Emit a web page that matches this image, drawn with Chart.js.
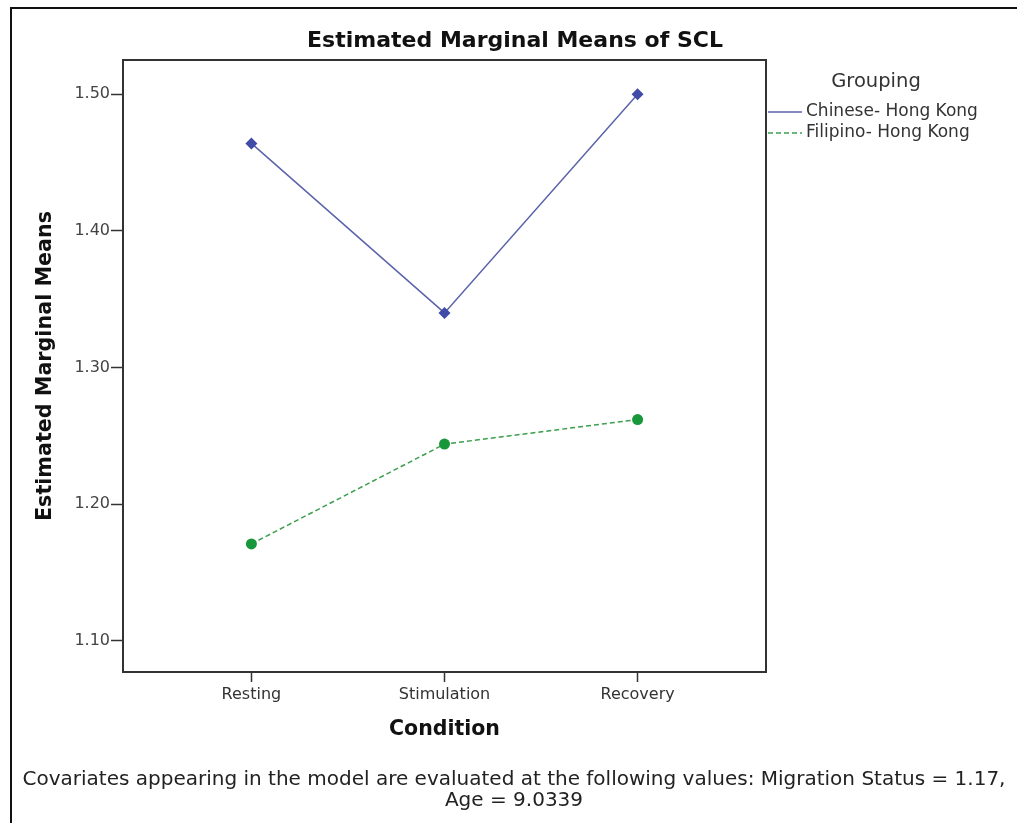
<!DOCTYPE html>
<html>
<head>
<meta charset="utf-8">
<script src="https://cdn.jsdelivr.net/npm/chart.js@4/dist/chart.umd.min.js"></script>
<style>
  html, body { margin: 0; padding: 0; background: #fff; }
  #wrap { width: 1017px; height: 823px; position: relative; }
</style>
</head>
<body>
<div id="wrap"><canvas id="emmChart" width="1017" height="823"></canvas></div>
<script>
  // Data
  const conditions = ['Resting', 'Stimulation', 'Recovery'];
  const chineseHK = [1.464, 1.340, 1.500];
  const filipinoHK = [1.171, 1.244, 1.262];
  const groupNames = ['Chinese- Hong Kong', 'Filipino- Hong Kong'];
  const yTicks = [1.10, 1.20, 1.30, 1.40, 1.50];

  const FONT = '"DejaVu Sans", sans-serif';
  const blue = '#5b63aa';
  const blueMark = '#3f4ba6';
  const green = '#3b9f4c';
  const greenMark = '#17973a';

  // Frame + title + legend + footer drawn around the plot
  const decorations = {
    id: 'decorations',
    beforeDraw(chart) {
      const ctx = chart.ctx;
      ctx.save();
      ctx.strokeStyle = '#111';
      ctx.lineWidth = 2;
      ctx.beginPath();
      ctx.moveTo(11, 823);
      ctx.lineTo(11, 8);
      ctx.lineTo(1017, 8);
      ctx.stroke();
      ctx.restore();
    },
    afterDraw(chart) {
      const ctx = chart.ctx;
      const a = chart.chartArea;
      ctx.save();
      ctx.strokeStyle = '#333';
      ctx.lineWidth = 2;
      ctx.strokeRect(a.left, a.top, a.right - a.left, a.bottom - a.top);

      ctx.fillStyle = '#111';
      ctx.textAlign = 'center';
      ctx.textBaseline = 'middle';
      ctx.font = 'bold 22px ' + FONT;
      ctx.fillText('Estimated Marginal Means of SCL', 515, 41);

      // legend
      ctx.fillStyle = '#333';
      ctx.font = '19.5px ' + FONT;
      ctx.fillText('Grouping', 876, 82);
      ctx.textAlign = 'left';
      ctx.font = '17px ' + FONT;
      chart.data.datasets.forEach((ds, i) => {
        const y = 112 + i * 21;
        ctx.strokeStyle = ds.borderColor;
        ctx.lineWidth = 1.5;
        ctx.setLineDash(ds.borderDash || []);
        ctx.beginPath();
        ctx.moveTo(768, y);
        ctx.lineTo(802, y);
        ctx.stroke();
        ctx.setLineDash([]);
        ctx.fillStyle = '#333';
        ctx.fillText(ds.label, 806, y);
      });

      // footer
      ctx.textAlign = 'center';
      ctx.fillStyle = '#222';
      ctx.font = '20px ' + FONT;
      ctx.fillText('Covariates appearing in the model are evaluated at the following values: Migration Status = 1.17,', 514, 780);
      ctx.fillText('Age = 9.0339', 514, 801);
      ctx.restore();
    }
  };

  new Chart(document.getElementById('emmChart').getContext('2d'), {
    type: 'line',
    data: {
      datasets: [
        {
          label: groupNames[0],
          data: chineseHK.map((v, i) => ({ x: i, y: v })),
          borderColor: blue,
          borderWidth: 1.5,
          pointStyle: 'rectRot',
          pointRadius: 6,
          pointBackgroundColor: blueMark,
          pointBorderColor: blueMark,
          pointBorderWidth: 0,
          tension: 0
        },
        {
          label: groupNames[1],
          data: filipinoHK.map((v, i) => ({ x: i, y: v })),
          borderColor: green,
          borderWidth: 1.5,
          borderDash: [5, 3],
          pointStyle: 'circle',
          pointRadius: 5.5,
          pointBackgroundColor: greenMark,
          pointBorderColor: greenMark,
          pointBorderWidth: 0,
          tension: 0
        }
      ]
    },
    options: {
      responsive: false,
      animation: false,
      devicePixelRatio: 1,
      layout: { padding: { left: 0, top: 60, right: 251, bottom: 77 } },
      plugins: {
        legend: { display: false },
        tooltip: { enabled: false }
      },
      scales: {
        x: {
          type: 'linear',
          min: -0.665,
          max: 2.665,
          afterBuildTicks: (s) => { s.ticks = conditions.map((c, i) => ({ value: i })); },
          afterFit: (s) => { s.height = 74; },
          grid: { drawOnChartArea: false, drawTicks: true, tickLength: 10, color: '#333', tickWidth: 1.5 },
          border: { display: false },
          ticks: {
            color: '#333',
            padding: 3,
            font: { family: FONT, size: 16 },
            callback: (v) => conditions[v]
          },
          title: {
            display: true,
            text: 'Condition',
            color: '#111',
            font: { family: FONT, size: 20.5, weight: 'bold' },
            padding: { top: 0, bottom: 4 }
          }
        },
        y: {
          min: 1.0773,
          max: 1.525,
          afterBuildTicks: (s) => { s.ticks = yTicks.map((v) => ({ value: v })); },
          afterFit: (s) => { s.width = 123; },
          grid: { drawOnChartArea: false, drawTicks: true, tickLength: 12, color: '#333', tickWidth: 1.5 },
          border: { display: false },
          ticks: {
            color: '#444',
            padding: 1,
            font: { family: FONT, size: 16 },
            callback: (v) => v.toFixed(2)
          },
          title: {
            display: true,
            text: 'Estimated Marginal Means',
            color: '#111',
            font: { family: FONT, size: 20.7, weight: 'bold' },
            padding: { top: 33, bottom: 0 }
          }
        }
      }
    },
    plugins: [decorations]
  });
</script>
</body>
</html>
